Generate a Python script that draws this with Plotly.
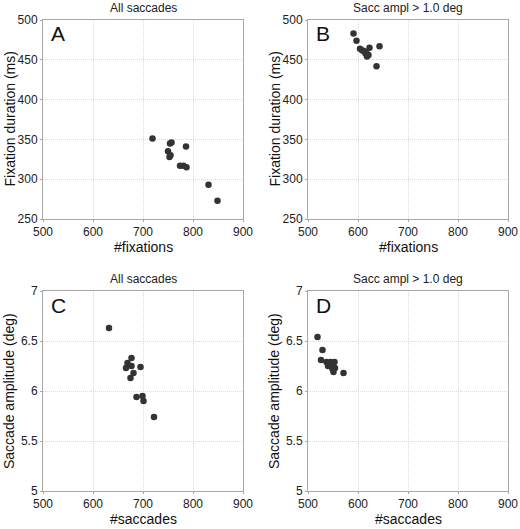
import plotly.graph_objects as go

# Panel A: All saccades, #fixations vs fixation duration
a_fix = [719, 757, 754, 786, 750, 755, 753, 774, 781, 787, 831, 849]
a_dur = [351, 346, 345, 341, 335, 330, 328, 317, 317, 315, 293, 273]
# Panel B: Sacc ampl > 1.0 deg
b_fix = [591, 597, 604, 611, 615, 621, 618, 623, 643, 637, 608, 616]
b_dur = [483, 474, 464, 461, 458, 456, 454, 465, 467, 442, 462, 460]
# Panel C: All saccades, #saccades vs amplitude
c_sac = [632, 677, 669, 677, 666, 695, 681, 675, 687, 699, 701, 722]
c_amp = [6.63, 6.33, 6.28, 6.25, 6.23, 6.24, 6.18, 6.13, 5.94, 5.95, 5.90, 5.74]
# Panel D: Sacc ampl > 1.0 deg
d_sac = [519, 529, 526, 537, 545, 553, 547, 549, 551, 571, 540, 554]
d_amp = [6.54, 6.41, 6.31, 6.29, 6.29, 6.29, 6.26, 6.22, 6.19, 6.18, 6.25, 6.23]

titles = ["All saccades", "Sacc ampl > 1.0 deg", "All saccades", "Sacc ampl > 1.0 deg"]
letters = ["A", "B", "C", "D"]
xlabels = ["#fixations", "#fixations", "#saccades", "#saccades"]
ylabels = ["Fixation duration (ms)", "Fixation duration (ms)",
           "Saccade amplitude (deg)", "Saccade amplitude (deg)"]
x_ticks = [500, 600, 700, 800, 900]
y_ticks_dur = [250, 300, 350, 400, 450, 500]
y_ticks_amp = [5, 5.5, 6, 6.5, 7]

W, H = 520, 529
xdoms_px = [(43, 243), (308, 508)]
ydoms_px = [(20, 219), (291, 491)]

def fx(p):
    return p / W

def fy(p):
    return 1 - p / H

FONT = "Liberation Sans, Arial, sans-serif"
fig = go.Figure()
data = [(a_fix, a_dur), (b_fix, b_dur), (c_sac, c_amp), (d_sac, d_amp)]
annotations = []
for i, (xs, ys) in enumerate(data):
    n = i + 1
    xa = "x" if n == 1 else f"x{n}"
    ya = "y" if n == 1 else f"y{n}"
    fig.add_trace(go.Scatter(x=xs, y=ys, mode="markers", xaxis=xa, yaxis=ya,
                             marker=dict(size=6.5, color="#333333"), showlegend=False))
    col = i % 2
    row = i // 2
    x0, x1 = xdoms_px[col]
    y0, y1 = ydoms_px[row]
    if row == 0:
        yr, yt = [250, 500], y_ticks_dur
    else:
        yr, yt = [5, 7], y_ticks_amp
    axcommon = dict(showline=True, mirror=True, linecolor="#a8a8a8", linewidth=1,
                    showgrid=True, gridcolor="#dadada", griddash="1px,1px", gridwidth=1,
                    zeroline=False, ticks="outside", ticklen=2, tickcolor="#a8a8a8",
                    automargin=False,
                    tickfont=dict(family=FONT, size=12, color="#222"))
    fig.layout[f"xaxis{n if n > 1 else ''}"] = dict(
        domain=[fx(x0), fx(x1)], range=[500, 900], tickvals=x_ticks,
        anchor=ya, **axcommon)
    fig.layout[f"yaxis{n if n > 1 else ''}"] = dict(
        domain=[fy(y1), fy(y0)], range=yr, tickvals=yt,
        anchor=xa, **axcommon)
    cx = (x0 + x1) / 2
    annotations.append(dict(text=titles[i], x=fx(cx), y=fy(y0 - 12), xref="paper", yref="paper",
                            showarrow=False, font=dict(family=FONT, size=12, color="#222"),
                            xanchor="center", yanchor="middle"))
    annotations.append(dict(text=xlabels[i], x=fx(cx), y=fy(y1 + 28), xref="paper", yref="paper",
                            showarrow=False, font=dict(family=FONT, size=14, color="#111"),
                            xanchor="center", yanchor="middle"))
    annotations.append(dict(text=ylabels[i], x=fx(x0 - 34), y=fy((y0 + y1) / 2), xref="paper",
                            yref="paper", showarrow=False, textangle=-90,
                            font=dict(family=FONT, size=14, color="#111"),
                            xanchor="center", yanchor="middle"))
    annotations.append(dict(text=letters[i], x=fx(x0 + 6), y=fy(y0 + 14), xref="paper", yref="paper",
                            showarrow=False, font=dict(family=FONT, size=21, color="#111"),
                            xanchor="left", yanchor="middle"))

fig.update_layout(width=W, height=H, margin=dict(l=0, r=0, t=0, b=0, autoexpand=False),
                  paper_bgcolor="white", plot_bgcolor="white",
                  annotations=annotations)
fig.write_html("out.html", config={"displayModeBar": False},
               post_script="document.body.style.margin='0';")
